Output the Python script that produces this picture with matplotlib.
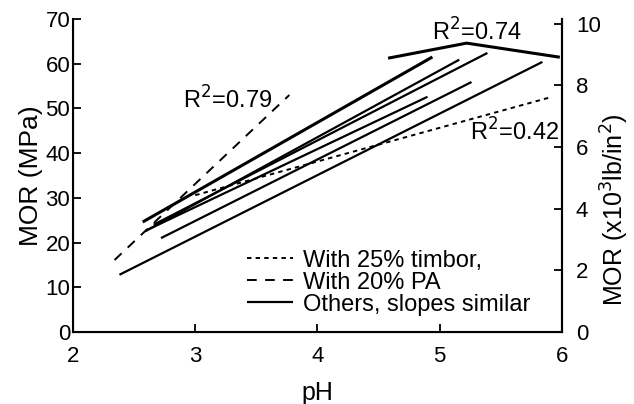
import matplotlib
matplotlib.use("Agg")
import matplotlib.pyplot as plt

plt.rcParams['font.family'] = ['Liberation Sans', 'DejaVu Sans']
plt.rcParams['lines.scale_dashes'] = False

# --- data ---
timbor_ph = [3.0, 5.92]
timbor_mor = [30.6, 52.6]

pa_ph = [2.34, 3.77]
pa_mor = [16.1, 53.0]

curve_ph = [4.59, 5.22, 5.97]
curve_mor = [61.3, 64.6, 61.5]

others_ph_start = [2.57, 2.59, 2.66, 2.72, 2.62, 2.38]
others_mor_start = [24.6, 22.5, 24.0, 21.0, 23.0, 12.8]
others_ph_end = [4.94, 5.16, 5.39, 5.26, 4.90, 5.84]
others_mor_end = [61.5, 60.9, 62.4, 55.9, 52.6, 60.4]
others_width = [2.2, 1.6, 1.6, 1.6, 1.6, 1.6]

left_ticks = [0, 10, 20, 30, 40, 50, 60, 70]
x_ticks = [2, 3, 4, 5, 6]
right_ticks = [0, 2, 4, 6, 8, 10]
MPA_PER_KSI = 6.895

fig = plt.figure(figsize=(6.34, 4.04), dpi=100)
ax = fig.add_axes([0.1151, 0.1782, 0.7713, 0.7748])

ax.plot(timbor_ph, timbor_mor, color='black', lw=1.4, dashes=(3.2, 3.0),
        label='With 25% timbor,')
ax.plot(pa_ph, pa_mor, color='black', lw=1.4, dashes=(7, 6),
        label='With 20% PA')
for i in range(len(others_ph_start)):
    ax.plot([others_ph_start[i], others_ph_end[i]],
            [others_mor_start[i], others_mor_end[i]],
            color='black', lw=others_width[i], solid_capstyle='butt',
            label='Others, slopes similar' if i == 1 else None)
ax.plot(curve_ph, curve_mor, color='black', lw=2.2)

ax.text(2.9, 51.9, 'R$^2$=0.79', fontsize=17, va='center', ha='left')
ax.text(4.935, 67.0, 'R$^2$=0.74', fontsize=17, va='center', ha='left')
ax.text(5.246, 44.7, 'R$^2$=0.42', fontsize=17, va='center', ha='left')

ax.set_xlim(2, 6)
ax.set_ylim(0, 70)
ax.set_xticks(x_ticks)
ax.set_yticks(left_ticks)
ax.tick_params(direction='in', length=6, width=1.3, labelsize=16, pad=2)
ax.tick_params(axis='x', pad=10)
for s in ['left', 'bottom', 'right']:
    ax.spines[s].set_linewidth(1.5)
ax.spines['top'].set_visible(False)
ax.set_xlabel('pH', fontsize=18, labelpad=10)
ax.set_ylabel('MOR (MPa)', fontsize=19, labelpad=2)

ax2 = ax.twinx()
ax2.set_ylim(0, 70 / MPA_PER_KSI)
ax2.set_yticks(right_ticks)
ax2.tick_params(direction='in', length=6, width=1.3, labelsize=16, pad=10)
ax2.spines['top'].set_visible(False)
ax2.spines['right'].set_linewidth(1.5)
ax2.set_ylabel('MOR (x10$^3$lb/in$^2$)', fontsize=18)
ax2.yaxis.set_label_coords(1.076, 0.39)

ax.legend(loc='upper left', bbox_to_anchor=(0.356, 0.263), frameon=False,
          fontsize=17, handlelength=1.95, handletextpad=0.42,
          labelspacing=0.0, borderpad=0, borderaxespad=0)

fig.savefig('out.png', dpi=100)
